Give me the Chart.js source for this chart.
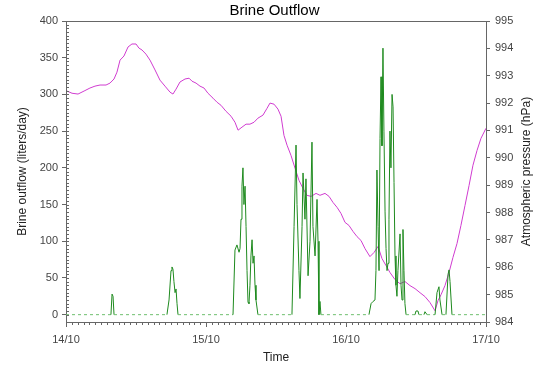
<!DOCTYPE html>
<html>
<head>
<meta charset="utf-8">
<script src="https://cdn.jsdelivr.net/npm/chart.js@4/dist/chart.umd.min.js"></script>
<style>
  html, body { margin: 0; padding: 0; background: #fff; }
  #wrap { width: 549px; height: 372px; }
</style>
</head>
<body>
<div id="wrap"><canvas id="c" width="549" height="372"></canvas></div>
<script>
// ---- Data (time in days since 14/10 00:00) ----
const dayTicks = [0, 1, 2, 3];
const dayLabels = ['14/10', '15/10', '16/10', '17/10'];
const leftTicks = [0, 50, 100, 150, 200, 250, 300, 350, 400];
const rightTicks = [984, 985, 986, 987, 988, 989, 990, 991, 992, 993, 994, 995];

const brineTime = [0, 0.314, 0.321, 0.329, 0.336, 0.343,
  0.721, 0.736, 0.75, 0.757, 0.764, 0.771, 0.779, 0.786, 0.793, 0.8,
  1.193, 1.207, 1.221, 1.236, 1.243, 1.25, 1.257, 1.264, 1.271, 1.279, 1.286, 1.293, 1.3, 1.307, 1.314, 1.321, 1.329, 1.336, 1.343, 1.35, 1.357, 1.371,
  1.614, 1.629, 1.643, 1.65, 1.664, 1.671, 1.686, 1.693, 1.707, 1.714, 1.729, 1.743, 1.757, 1.764, 1.779, 1.793, 1.8, 1.807, 1.814, 1.821,
  2.164, 2.179, 2.193, 2.207, 2.214, 2.221, 2.229, 2.236, 2.243, 2.25, 2.257, 2.264, 2.271, 2.279, 2.286, 2.293, 2.3, 2.307, 2.314, 2.321, 2.329, 2.336, 2.343, 2.35, 2.357, 2.364, 2.371, 2.386, 2.393, 2.4, 2.407, 2.414, 2.421, 2.429,
  2.493, 2.5, 2.514, 2.521, 2.557, 2.564, 2.579, 2.636, 2.65, 2.664, 2.671, 2.686, 2.714, 2.729, 2.736, 2.743, 2.757, 3.0];
const brineFlow = [0, 0, 0, 28, 25, 0,
  0, 20, 60, 65, 62, 45, 30, 35, 15, 0,
  0, 88, 95, 85, 90, 130, 175, 200, 150, 175, 120, 60, 17, 15, 40, 80, 102, 70, 80, 40, 20, 0,
  0, 120, 231, 150, 60, 22, 120, 193, 130, 185, 53, 100, 235, 120, 80, 157, 100, 0, 18, 0,
  0, 15, 18, 20, 60, 197, 120, 60, 240, 324, 230, 363, 250, 140, 90, 60, 70, 130, 250, 200, 300, 283, 180, 80, 40, 25, 60, 110, 40, 20, 116, 60, 15, 0,
  0, 5, 5, 0, 0, 4, 0, 0, 30, 38, 20, 0, 0, 55, 61, 45, 0, 0];

const pressureTime = [0.007, 0.043, 0.086, 0.129, 0.171, 0.207, 0.243, 0.286, 0.314, 0.343,
  0.364, 0.386, 0.414, 0.443, 0.471, 0.5, 0.521, 0.543, 0.571, 0.6,
  0.636, 0.671, 0.707, 0.743, 0.764, 0.786, 0.814, 0.85, 0.879, 0.9,
  0.929, 0.957, 0.986, 1.014, 1.05, 1.079, 1.107, 1.143, 1.179, 1.207,
  1.229, 1.257, 1.286, 1.314, 1.343, 1.371, 1.407, 1.436, 1.457, 1.486,
  1.514, 1.536, 1.557, 1.579, 1.607, 1.636, 1.664, 1.693, 1.721, 1.75,
  1.786, 1.814, 1.85, 1.879, 1.907, 1.936, 1.964, 1.993, 2.021, 2.05,
  2.079, 2.107, 2.136, 2.171, 2.2, 2.229, 2.257, 2.286, 2.314, 2.35,
  2.386, 2.421, 2.457, 2.493, 2.529, 2.564, 2.6, 2.636, 2.657, 2.679,
  2.707, 2.736, 2.764, 2.793, 2.821, 2.85, 2.879, 2.907, 2.936, 2.964, 3.0];
const pressureHpa = [992.44, 992.36, 992.33, 992.44, 992.55, 992.62, 992.66, 992.66, 992.73, 992.88,
  993.13, 993.57, 993.72, 994.05, 994.16, 994.16, 994.01, 993.94, 993.79, 993.57,
  993.21, 992.84, 992.62, 992.40, 992.33, 992.51, 992.77, 992.88, 992.91, 992.80,
  992.73, 992.62, 992.55, 992.36, 992.18, 992.03, 991.92, 991.70, 991.52, 991.30,
  991.01, 991.12, 991.23, 991.23, 991.30, 991.45, 991.56, 991.81, 992.00, 991.96,
  991.78, 991.52, 990.82, 990.46, 990.09, 989.62, 989.18, 988.88, 988.63, 988.59,
  988.70, 988.63, 988.70, 988.59, 988.37, 988.19, 987.97, 987.64, 987.53, 987.31,
  987.12, 986.98, 986.68, 986.39, 986.54, 986.76, 986.32, 986.06, 985.81, 985.55,
  985.40, 985.48, 985.33, 985.22, 985.07, 984.93, 984.71, 984.41, 984.78, 985.0,
  985.33, 985.81, 986.36, 986.87, 987.53, 988.26, 988.99, 989.73, 990.27, 990.71, 991.08];

// ---- Chart ----
const FONT = "'Liberation Sans', Arial, sans-serif";
const AXIS = '#666';

const decorPlugin = {
  id: 'decor',
  afterDraw(chart) {
    const { ctx, chartArea: a, scales } = chart;
    const xs = scales.x, ys = scales.y;
    ctx.save();
    ctx.strokeStyle = AXIS;
    ctx.lineWidth = 1;
    // top frame line
    ctx.beginPath();
    ctx.moveTo(a.left, Math.round(a.top) + 0.5);
    ctx.lineTo(a.right, Math.round(a.top) + 0.5);
    ctx.stroke();
    // minor ticks on left axis (inside)
    ctx.beginPath();
    for (let v = 0; v <= 400; v += 5) {
      const y = Math.round(ys.getPixelForValue(v)) + 0.5;
      ctx.moveTo(a.left, y);
      ctx.lineTo(a.left + 3, y);
    }
    // hourly minor ticks on bottom axis (outside)
    for (let h = 0; h <= 72; h++) {
      const x = Math.round(xs.getPixelForValue(h / 24)) + 0.5;
      ctx.moveTo(x, a.bottom);
      ctx.lineTo(x, a.bottom + 3);
    }
    ctx.stroke();
    // right axis title (reads bottom to top)
    ctx.fillStyle = '#222';
    ctx.font = '12px ' + FONT;
    ctx.textAlign = 'center';
    ctx.textBaseline = 'middle';
    ctx.translate(527, (a.top + a.bottom) / 2);
    ctx.rotate(-Math.PI / 2);
    ctx.fillText('Atmospheric pressure (hPa)', 0, 0);
    ctx.restore();
  }
};

new Chart(document.getElementById('c'), {
  type: 'line',
  data: {
    datasets: [
      {
        label: 'Brine outflow',
        data: brineTime.map((t, i) => ({ x: t, y: brineFlow[i] })),
        yAxisID: 'y',
        borderColor: '#1e8a1e',
        borderWidth: 1,
        pointRadius: 0,
        tension: 0,
        segment: {
          borderDash: c => (c.p0.parsed.y === 0 && c.p1.parsed.y === 0) ? [3, 3] : undefined,
          borderColor: c => (c.p0.parsed.y === 0 && c.p1.parsed.y === 0) ? '#6fbf6f' : undefined
        }
      },
      {
        label: 'Atmospheric pressure',
        data: pressureTime.map((t, i) => ({ x: t, y: pressureHpa[i] })),
        yAxisID: 'y1',
        borderColor: '#d03cd0',
        borderWidth: 1,
        pointRadius: 0,
        tension: 0
      }
    ]
  },
  options: {
    responsive: false,
    animation: false,
    devicePixelRatio: 1,
    layout: { padding: 0 },
    plugins: {
      legend: { display: false },
      tooltip: { enabled: false },
      title: {
        display: true,
        text: 'Brine Outflow',
        color: '#000',
        font: { family: FONT, size: 15, weight: 'normal' },
        padding: { top: 2, bottom: 1 }
      }
    },
    scales: {
      x: {
        type: 'linear',
        position: 'bottom',
        min: 0,
        max: 3,
        afterBuildTicks: s => { s.ticks = dayTicks.map(v => ({ value: v })); },
        afterFit: s => { s.height = 50; },
        ticks: {
          callback: v => dayLabels[dayTicks.indexOf(v)],
          color: '#444',
          font: { family: FONT, size: 11 },
          padding: 6,
          maxRotation: 0,
          autoSkip: false
        },
        grid: { drawOnChartArea: false, tickLength: 5, color: AXIS },
        border: { color: AXIS },
        title: {
          display: true,
          text: 'Time',
          color: '#222',
          font: { family: FONT, size: 12 },
          padding: { top: 0, bottom: 7 }
        }
      },
      y: {
        type: 'linear',
        position: 'left',
        min: -10,
        max: 400,
        afterBuildTicks: s => { s.ticks = leftTicks.map(v => ({ value: v })); },
        afterFit: s => { s.width = 66; },
        ticks: {
          color: '#444',
          font: { family: FONT, size: 11 },
          padding: 4
        },
        grid: { drawOnChartArea: false, tickLength: 4, color: AXIS },
        border: { color: AXIS },
        title: {
          display: true,
          text: 'Brine outflow (liters/day)',
          color: '#222',
          font: { family: FONT, size: 12 },
          padding: { top: 15, bottom: 0 }
        }
      },
      y1: {
        type: 'linear',
        position: 'right',
        min: 984,
        max: 995,
        afterBuildTicks: s => { s.ticks = rightTicks.map(v => ({ value: v })); },
        afterFit: s => { s.width = 63; },
        ticks: {
          color: '#444',
          font: { family: FONT, size: 11 },
          padding: 5
        },
        grid: { drawOnChartArea: false, tickLength: 4, color: AXIS },
        border: { color: AXIS }
      }
    }
  },
  plugins: [decorPlugin]
});
</script>
</body>
</html>
